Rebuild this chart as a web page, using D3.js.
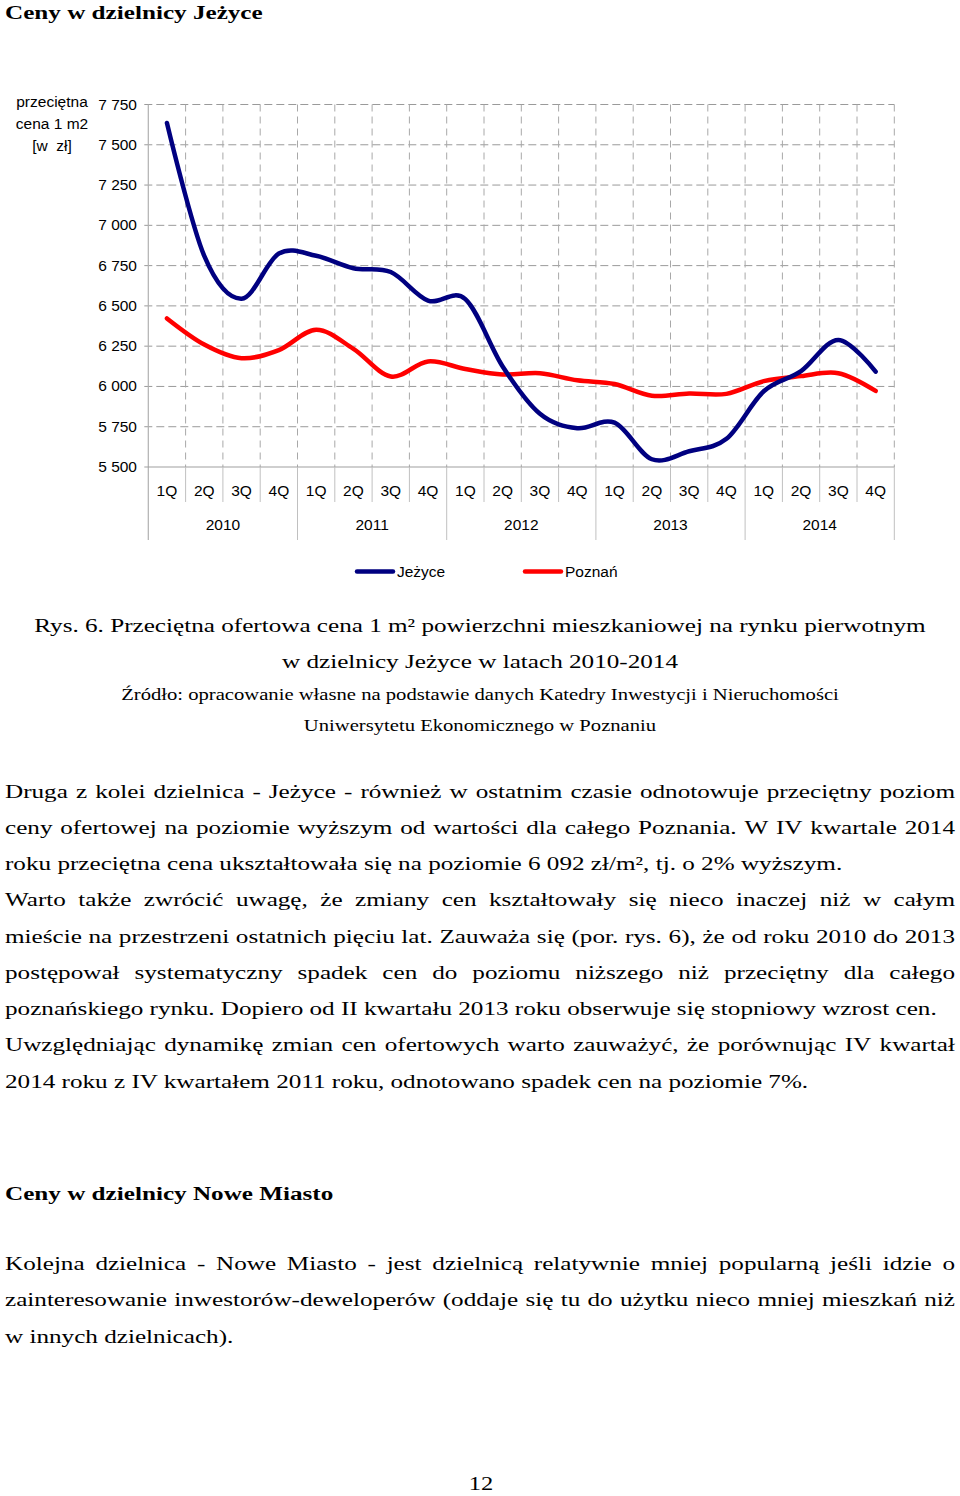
<!DOCTYPE html>
<html><head><meta charset="utf-8">
<script src="https://cdn.jsdelivr.net/npm/d3@7"></script>
<style>html,body{margin:0;padding:0;background:#fff}svg{display:block}</style>
</head><body>
<svg id="page" width="960" height="1496"></svg>
<script>
// ---- data ----
const quarters = ["1Q","2Q","3Q","4Q"];
const years = ["2010","2011","2012","2013","2014"];
const jezyce = [7635,6810,6545,6825,6811,6734,6710,6533,6542,6124,5830,5741,5775,5548,5598,5675,5970,6095,6289,6092];
const poznan = [6422,6260,6175,6226,6352,6233,6062,6155,6108,6074,6082,6038,6015,5942,5956,5954,6033,6064,6082,5972];
const yTicks = [5500,5750,6000,6250,6500,6750,7000,7250,7500,7750];
const seriesNames = ["Jeżyce","Poznań"];
const yAxisTitle = ["przeciętna","cena 1 m2","[w\u00a0 zł]"];

const periods = years.flatMap(y => quarters.map(q => y + " " + q));

// ---- text content ----
const pageTitle = "Ceny w dzielnicy Jeżyce";
const captionLines = ["Rys. 6. Przeciętna ofertowa cena 1 m² powierzchni mieszkaniowej na rynku pierwotnym",
  "w dzielnicy Jeżyce w latach 2010-2014"];
const sourceLines = ["Źródło: opracowanie własne na podstawie danych Katedry Inwestycji i Nieruchomości",
  "Uniwersytetu Ekonomicznego w Poznaniu"];
const para1 = [
  ["Druga z kolei dzielnica - Jeżyce - również w ostatnim czasie odnotowuje przeciętny poziom", true],
  ["ceny ofertowej na poziomie wyższym od wartości dla całego Poznania. W IV kwartale 2014", true],
  ["roku przeciętna cena ukształtowała się na poziomie 6 092 zł/m², tj. o 2% wyższym.", false],
  ["Warto także zwrócić uwagę, że zmiany cen kształtowały się nieco inaczej niż w całym", true],
  ["mieście na przestrzeni ostatnich pięciu lat. Zauważa się (por. rys. 6), że od roku 2010 do 2013", true],
  ["postępował systematyczny spadek cen do poziomu niższego niż przeciętny dla całego", true],
  ["poznańskiego rynku. Dopiero od II kwartału 2013 roku obserwuje się stopniowy wzrost cen.", false],
  ["Uwzględniając dynamikę zmian cen ofertowych warto zauważyć, że porównując IV kwartał", true],
  ["2014 roku z IV kwartałem 2011 roku, odnotowano spadek cen na poziomie 7%.", false]
];
const heading2 = "Ceny w dzielnicy Nowe Miasto";
const para2 = [
  ["Kolejna dzielnica - Nowe Miasto - jest dzielnicą relatywnie mniej popularną jeśli idzie o", true],
  ["zainteresowanie inwestorów-deweloperów (oddaje się tu do użytku nieco mniej mieszkań niż", true],
  ["w innych dzielnicach).", false]
];
const pageNumber = "12";

// ---- setup ----
const svg = d3.select("#page");
svg.append("rect").attr("width",960).attr("height",1496).attr("fill","#fff");
const SERIF = "'Liberation Serif','Times New Roman',Times,serif";
const SANS = "'Liberation Sans',Arial,Helvetica,sans-serif";
const SX = 1.29;      // horizontal stretch of the page text
const CSX = 1.07;     // horizontal stretch of chart text

function txt(parent, str, x, y, o) {
  const g = parent.append("g").attr("transform", `translate(${x},${y}) scale(${o.sx},1)`);
  return g.append("text").attr("font-family", o.family).attr("font-size", o.size)
    .attr("font-weight", o.weight || "normal").attr("text-anchor", o.anchor || "start")
    .attr("fill", o.fill || "#000").text(str);
}
function bodyLine(str, justify, baseline, x0, x1, size, weight) {
  const g = svg.append("g").attr("transform", `translate(${x0},${baseline}) scale(${SX},1)`);
  if (!justify) {
    g.append("text").attr("font-family", SERIF).attr("font-size", size).attr("font-weight", weight||"normal").text(str);
    return;
  }
  const words = str.split(" ");
  const nodes = words.map(w => g.append("text").attr("font-family", SERIF).attr("font-size", size).text(w));
  const widths = nodes.map(n => n.node().getComputedTextLength());
  const W = (x1 - x0) / SX;
  const gap = (W - d3.sum(widths)) / (words.length - 1);
  let cx = 0;
  nodes.forEach((n, i) => { n.attr("x", cx); cx += widths[i] + gap; });
}

// ---- page text ----
txt(svg, pageTitle, 5, 19, {family: SERIF, size: 19.5, weight: "bold", sx: SX});
captionLines.forEach((l, i) => txt(svg, l, 480, 631.5 + i*36, {family: SERIF, size: 19.5, anchor: "middle", sx: SX}));
sourceLines.forEach((l, i) => txt(svg, l, 480, 700 + i*31, {family: SERIF, size: 16, anchor: "middle", sx: SX}));
para1.forEach((l, i) => bodyLine(l[0], l[1], 797.5 + i*36.25, 5, 955, 19.5));
txt(svg, heading2, 5, 1199.5, {family: SERIF, size: 19.5, weight: "bold", sx: SX});
para2.forEach((l, i) => bodyLine(l[0], l[1], 1270 + i*36.25, 5, 955, 19.5));
txt(svg, pageNumber, 481, 1490, {family: SERIF, size: 19, anchor: "middle", sx: SX});

// ---- chart ----
const x = d3.scaleBand().domain(periods).range([148.3, 894.3]).padding(0);
const y = d3.scaleLinear().domain([5500, 7750]).range([467, 104.5]);
const chart = svg.append("g");
const xLeft = x.range()[0], xRight = x.range()[1];

// horizontal grid
chart.append("g").selectAll("line").data(yTicks.filter(v => v > 5500)).join("line")
  .attr("x1", xLeft - 4).attr("x2", xRight).attr("y1", d => y(d)).attr("y2", d => y(d))
  .attr("stroke", "#9a9a9a").attr("stroke-width", 1).attr("stroke-dasharray", "8,4");
// vertical grid
chart.append("g").selectAll("line").data(periods).join("line")
  .attr("x1", d => x(d) + x.bandwidth()).attr("x2", d => x(d) + x.bandwidth())
  .attr("y1", y(7750)).attr("y2", y(5500))
  .attr("stroke", "#a8a8a8").attr("stroke-width", 1).attr("stroke-dasharray", "7,5");
// axes
chart.append("line").attr("x1", xLeft).attr("x2", xLeft).attr("y1", y(7750)).attr("y2", 540)
  .attr("stroke", "#b0b0b0").attr("stroke-width", 1.2);
chart.append("line").attr("x1", xLeft - 4).attr("x2", xRight).attr("y1", y(5500)).attr("y2", y(5500))
  .attr("stroke", "#a0a0a0").attr("stroke-width", 1.2);
// category separators
chart.append("g").selectAll("line").data(periods).join("line")
  .attr("x1", d => x(d) + x.bandwidth()).attr("x2", d => x(d) + x.bandwidth())
  .attr("y1", y(5500)).attr("y2", (d, i) => (i % 4 === 3) ? 540 : 502)
  .attr("stroke", "#c0c0c0").attr("stroke-width", 1);

// y tick labels
const fmt = d3.formatLocale({decimal: ",", thousands: " ", grouping: [3], currency: ["", " zł"]}).format(",");
yTicks.forEach(v => txt(chart, fmt(v), 137, y(v) + 5, {family: SANS, size: 14.5, anchor: "end", sx: CSX}));
// y axis title
yAxisTitle.forEach((l, i) => txt(chart, l, 52, 106.5 + i*22, {family: SANS, size: 14.5, anchor: "middle", sx: CSX}));
// quarter + year labels
periods.forEach((p, i) => txt(chart, quarters[i % 4], x(p) + x.bandwidth()/2, 496, {family: SANS, size: 14.5, anchor: "middle", sx: CSX}));
years.forEach((yr, j) => {
  const a = x(yr + " 1Q"), b = x(yr + " 4Q") + x.bandwidth();
  txt(chart, yr, (a + b) / 2, 530, {family: SANS, size: 14.5, anchor: "middle", sx: CSX});
});

// lines
const colors = ["#000080", "#ff0000"];
const series = [jezyce, poznan];
const line = d3.line()
  .x((d, i) => x(periods[i]) + x.bandwidth() / 2)
  .y(d => y(d))
  .curve(d3.curveCatmullRom.alpha(0));
[1, 0].forEach(k => {
  chart.append("path").datum(series[k]).attr("d", line)
    .attr("fill", "none").attr("stroke", colors[k]).attr("stroke-width", 4.5)
    .attr("stroke-linejoin", "round").attr("stroke-linecap", "round");
});

// legend
const legendX = [357, 525];
seriesNames.forEach((n, k) => {
  chart.append("line").attr("x1", legendX[k]).attr("x2", legendX[k] + 36).attr("y1", 571.5).attr("y2", 571.5)
    .attr("stroke", colors[k]).attr("stroke-width", 4.5).attr("stroke-linecap", "round");
  txt(chart, n, legendX[k] + 40, 576.5, {family: SANS, size: 14.5, sx: CSX});
});
</script>
</body></html>
